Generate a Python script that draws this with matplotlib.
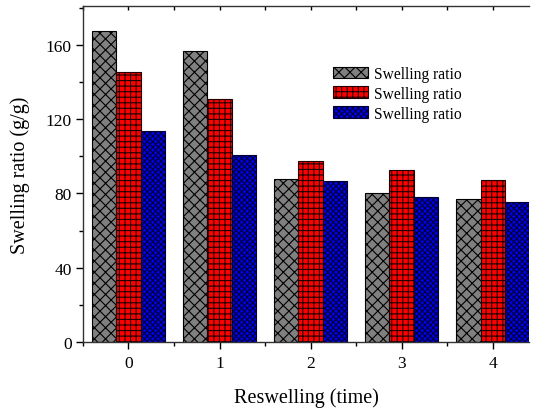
import matplotlib
matplotlib.use('Agg')
import matplotlib.pyplot as plt
import numpy as np
from matplotlib.ticker import MultipleLocator

plt.rcParams['font.family'] = ['Liberation Serif', 'DejaVu Serif']
plt.rcParams['hatch.linewidth'] = 0.8

# data
cycles = [0, 1, 2, 3, 4]
gray_vals = [167.7, 157.0, 87.6, 80.1, 77.2]
red_vals = [145.3, 130.9, 97.3, 92.8, 87.5]
blue_vals = [113.9, 100.9, 86.6, 78.0, 75.3]
labels = ['Swelling ratio', 'Swelling ratio', 'Swelling ratio']

fig = plt.figure(figsize=(5.35, 4.10), dpi=100)
ax = fig.add_axes([0.155, 0.1634, 0.834, 0.8195])

x = np.array(cycles)
w = 0.267
ax.bar(x - w, gray_vals, w, color='#808080', edgecolor='black', hatch='xxx',
       linewidth=0.8, label=labels[0])
ax.bar(x, red_vals, w, color='#ff0000', edgecolor='#200000', hatch='+++',
       linewidth=0.8, label=labels[1])
ax.bar(x + w, blue_vals, w, color='#0000ee', edgecolor='#000033', hatch='xxxxxx',
       linewidth=0.8, label=labels[2])

ax.set_xlim(-0.5, 4.4)
ax.set_ylim(0, 181)
ax.set_xticks(cycles)
ax.xaxis.set_minor_locator(MultipleLocator(0.5))
ax.yaxis.set_major_locator(MultipleLocator(40))
ax.yaxis.set_minor_locator(MultipleLocator(20))

ax.spines['right'].set_visible(False)
for s in ['left', 'bottom', 'top']:
    ax.spines[s].set_linewidth(1.0)
    ax.spines[s].set_color('#333333')

ax.tick_params(axis='x', which='major', direction='out', length=5, width=1,
               labelsize=12.5, pad=4)
ax.tick_params(axis='x', which='minor', direction='out', length=3, width=1)
ax.tick_params(axis='x', which='both', top=True)
ax.tick_params(axis='y', which='major', direction='out', length=5, width=1,
               labelsize=12.5, pad=3)
ax.tick_params(axis='y', which='minor', direction='out', length=3, width=1)
# top ticks point inward
for t in ax.xaxis.get_major_ticks() + ax.xaxis.get_minor_ticks():
    t.tick2line.set_marker(3)
    t.tick2line.set_markersize(3)

ax.set_xlabel('Reswelling (time)', fontsize=14.5, labelpad=12)
ax.set_ylabel('Swelling ratio (g/g)', fontsize=14.5, labelpad=11)

ax.legend(loc='upper left', bbox_to_anchor=(0.542, 0.845), frameon=False, fontsize=11.2,
          handlelength=2.3, handleheight=0.8, handletextpad=0.35, labelspacing=0.25,
          borderpad=0)

fig.savefig('out.png', dpi=100)
